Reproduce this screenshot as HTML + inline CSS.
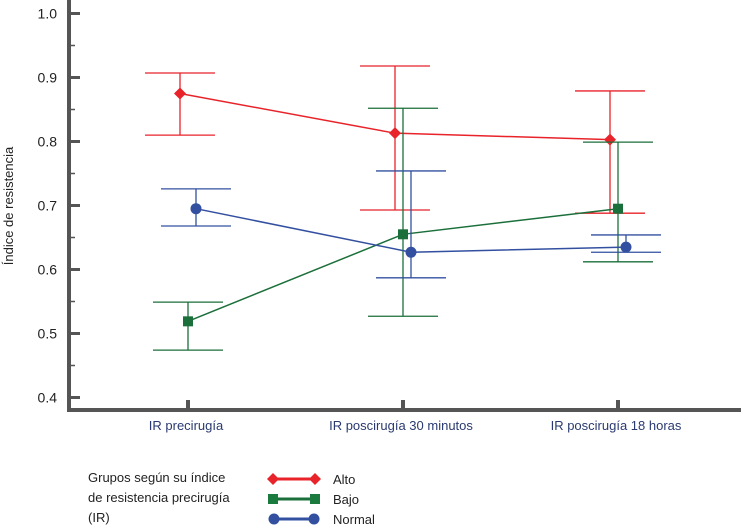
<!DOCTYPE html>
<html><head><meta charset="utf-8"><style>
body{margin:0;background:#fff}
svg{display:block;font-family:"Liberation Sans",sans-serif}
</style></head><body>
<svg id="chart" width="741" height="526" viewBox="0 0 741 526">
<g id="axes"></g><g id="marks"></g>
<g>
<text x="88" y="482" font-size="13" fill="#222">Grupos según su índice</text>
<text x="88" y="502" font-size="13" fill="#222">de resistencia precirugía</text>
<text x="88" y="522" font-size="13" fill="#222">(IR)</text>
<g>
<line x1="274" y1="479" x2="314" y2="479" stroke="#e8232a" stroke-width="3"/>
<polygon points="267,479 273,473 279,479 273,485" fill="#e8232a"/><polygon points="309,479 315,473 321,479 315,485" fill="#e8232a"/>
<text x="333" y="484" font-size="13" fill="#222">Alto</text></g>
<g>
<line x1="274" y1="499" x2="314" y2="499" stroke="#1b6f3a" stroke-width="3"/>
<rect x="268" y="494" width="10" height="10" fill="#1b7a3e"/><rect x="310" y="494" width="10" height="10" fill="#1b7a3e"/>
<text x="333" y="504" font-size="13" fill="#222">Bajo</text></g>
<g>
<line x1="274" y1="519" x2="314" y2="519" stroke="#3350a0" stroke-width="3"/>
<circle cx="274" cy="519" r="5.5" fill="#3350a0"/><circle cx="314" cy="519" r="5.5" fill="#3350a0"/>
<text x="333" y="524" font-size="13" fill="#222">Normal</text></g>
</g>
</svg>
<script>
const categories=["IR precirugía","IR poscirugía 30 minutos","IR poscirugía 18 horas"];
const yTicks=["0.4","0.5","0.6","0.7","0.8","0.9","1.0"];
const altoMean=[0.875,0.813,0.803];
const altoHi=[0.907,0.918,0.879];
const altoLo=[0.810,0.693,0.688];
const bajoMean=[0.519,0.655,0.695];
const bajoHi=[0.549,0.852,0.799];
const bajoLo=[0.474,0.527,0.612];
const normalMean=[0.695,0.627,0.635];
const normalHi=[0.726,0.754,0.654];
const normalLo=[0.668,0.587,0.627];
const NS="http://www.w3.org/2000/svg";
function y(v){return 13.5+(1-v)*640;}
function x(i){return 188+i*215;}
function mk(tag,attrs,parent){const e=document.createElementNS(NS,tag);for(const k in attrs)e.setAttribute(k,attrs[k]);parent.appendChild(e);return e;}
const axes=document.getElementById('axes'),marks=document.getElementById('marks');
let e=mk('line',{x1:69,y1:0,x2:69,y2:412,stroke:'#555','stroke-width':4},axes);


e=mk('line',{x1:67,y1:410,x2:741,y2:410,stroke:'#555','stroke-width':4},axes);


yTicks.forEach((t,i)=>{const v=parseFloat(t);
 e=mk('line',{x1:69,y1:y(v),x2:80,y2:y(v),stroke:'#555','stroke-width':3},axes);
 
 
 e=mk('text',{x:57,y:y(v)+5,'font-size':14,fill:'#222','text-anchor':'end'},axes);e.textContent=t;
 
 
 if(i<yTicks.length-1){e=mk('line',{x1:69,y1:y(v+0.05),x2:75,y2:y(v+0.05),stroke:'#555','stroke-width':1.5},axes);
 
 }
});
categories.forEach((c,i)=>{
 e=mk('line',{x1:x(i),y1:400,x2:x(i),y2:410,stroke:'#555','stroke-width':4},axes);
 
 
 e=mk('text',{x:x(i)-2,y:430,'font-size':13,fill:'#2a3a70','text-anchor':'middle'},axes);e.textContent=c;
 
 
});
e=mk('text',{x:0,y:0,'font-size':13,fill:'#222','text-anchor':'middle',transform:'translate(13,206) rotate(-90)'},axes);e.textContent='Índice de resistencia';


function series(name,mean,hi,lo,off,color,shape){
 const g=mk('g',{},marks);
 
 
 mean.forEach((v,i)=>{const cx=x(i)+off;
  let b=mk('path',{d:`M${cx-35} ${y(hi[i])}H${cx+35}M${cx} ${y(hi[i])}V${y(lo[i])}M${cx-35} ${y(lo[i])}H${cx+35}`,stroke:color,'stroke-width':1.3,fill:'none'},g);
  
  
 });
 const pts=mean.map((v,i)=>(x(i)+off)+','+y(v)).join(' ');
 let l=mk('polyline',{points:pts,stroke:color,'stroke-width':1.5,fill:'none'},g);
 
 
 mean.forEach((v,i)=>{const cx=x(i)+off,cy=y(v);let p;
  if(shape==='d')p=mk('polygon',{points:`${cx-6},${cy} ${cx},${cy-6} ${cx+6},${cy} ${cx},${cy+6}`,fill:color},g);
  else if(shape==='s')p=mk('rect',{x:cx-5,y:cy-5,width:10,height:10,fill:color},g);
  else p=mk('circle',{cx:cx,cy:cy,r:5.5,fill:color},g);
  
  
 });
}
series('alto',altoMean,altoHi,altoLo,-8,'#e8232a','d');
series('bajo',bajoMean,bajoHi,bajoLo,0,'#1b6f3a','s');
series('normal',normalMean,normalHi,normalLo,8,'#3350a0','c');
</script>
</body></html>
